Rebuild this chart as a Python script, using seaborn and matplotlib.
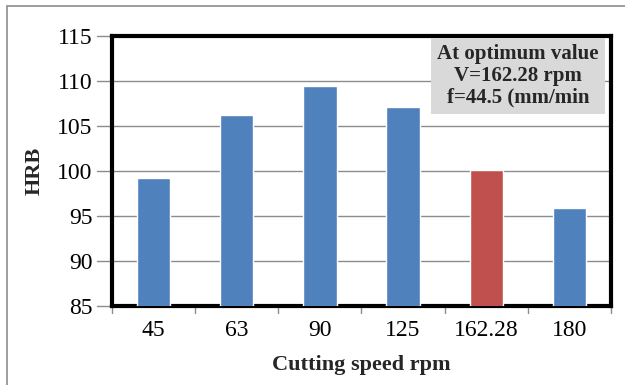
import matplotlib
matplotlib.use("Agg")
import matplotlib.pyplot as plt
import seaborn as sns
import pandas as pd
from matplotlib.patches import Rectangle

# data
speeds = ["45", "63", "90", "125", "162.28", "180"]
hrb = [99.2, 106.2, 109.4, 107.1, 100.1, 95.9]
bar_colors = ["#4F81BD", "#4F81BD", "#4F81BD", "#4F81BD", "#C0504D", "#4F81BD"]
y_ticks = [85, 90, 95, 100, 105, 110, 115]
note = "At optimum value\nV=162.28 rpm\nf=44.5 (mm/min"

sns.set_theme(style="white")
plt.rcParams['font.family'] = ['Liberation Serif', 'DejaVu Serif']

df = pd.DataFrame({"speed": speeds, "HRB": hrb})

fig = plt.figure(figsize=(6.25, 3.85), dpi=100)
ax = fig.add_axes([112 / 625, 1 - 306 / 385, 499 / 625, 270 / 385])

sns.barplot(data=df, x="speed", y="HRB", hue="speed", palette=bar_colors,
            legend=False, width=0.4, saturation=1, ax=ax, zorder=3)

ax.set_xlim(-0.5, len(speeds) - 0.5)
ax.set_ylim(85, 115)
ax.set_yticks(y_ticks)
ax.yaxis.grid(True, color="#8C8C8C", linewidth=1, zorder=0)
ax.set_axisbelow(True)
for s in ax.spines.values():
    s.set_color("black")
    s.set_linewidth(3)

ax.tick_params(axis="both", labelsize=17, colors="black", length=0)
ax.tick_params(axis="y", pad=14)
ax.tick_params(axis="x", pad=10)
ax.set_xlabel("Cutting speed rpm", fontsize=16, fontweight="bold", labelpad=10)
ax.set_ylabel("HRB", fontsize=16, fontweight="bold", labelpad=9)

# small outer tick marks like the Excel axis
for yv in y_ticks:
    ax.plot([-0.03, 0], [yv, yv], transform=ax.get_yaxis_transform(),
            color="#8C8C8C", lw=1, clip_on=False)
for i in range(len(speeds) + 1):
    ax.plot([i - 0.5, i - 0.5], [-0.025, 0], transform=ax.get_xaxis_transform(),
            color="#8C8C8C", lw=1, clip_on=False)

ax.text(0.814, 0.852, note, transform=ax.transAxes, ha="center", va="center",
        fontsize=15, fontweight="bold", linespacing=1.1,
        bbox=dict(boxstyle="square,pad=0.3", facecolor="#D9D9D9", edgecolor="none"),
        zorder=5)

# light outer chart border
fig.add_artist(Rectangle((7 / 625, -0.05), 1.1, 1 - 6 / 385 + 0.05,
                         transform=fig.transFigure, fill=False,
                         edgecolor="#8C8C8C", linewidth=1.2))

fig.savefig("out.png", dpi=100)
